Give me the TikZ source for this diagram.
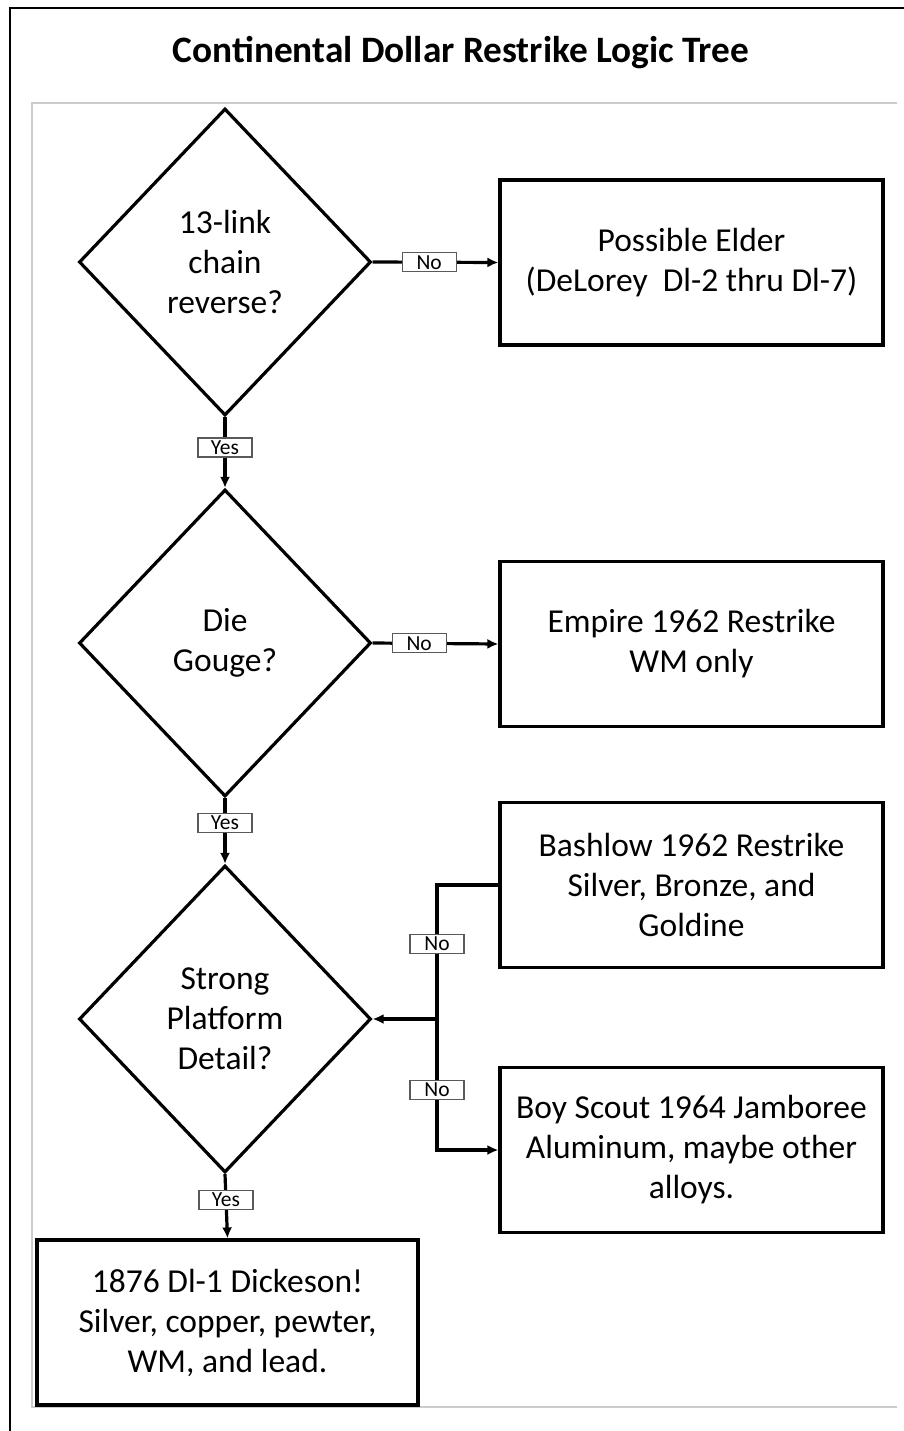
\documentclass[tikz,border=0pt]{standalone}
\usepackage{fontspec}
\setmainfont{Carlito}
\usetikzlibrary{shapes.geometric,arrows.meta}
\begin{document}
\begin{tikzpicture}[x=1pt,y=-1pt,
  every node/.style={inner sep=0pt},
  txt/.style={font=\fontsize{33.5}{40}\selectfont, align=center},
  decision/.style={txt, diamond, draw, line width=3.2pt, minimum width=292pt, minimum height=307pt},
  result/.style={txt, rectangle, draw, line width=3.2pt, minimum width=383pt, minimum height=165pt},
  lab/.style={draw=black!65, line width=1.2pt, fill=white, font=\fontsize{21.5}{21.5}\selectfont, minimum width=54pt, minimum height=19pt},
  conn/.style={line width=3.2pt},
  arr/.style={conn, -{Latex[length=11pt,width=10pt]}}
]
\useasboundingbox (0,0) rectangle (904,1431);
\draw[line width=2pt] (10,1431) -- (10,8) -- (904,8);
\draw[black!20, line width=1.5pt] (897,103) -- (32,103) -- (32,1407) -- (897,1407);
\node[font=\fontsize{37.3}{37.3}\selectfont\bfseries] (title) at (461,53) {Continental Dollar Restrike Logic Tree};

\node[decision] (d1) at (225,262) {13-link\\chain\\reverse?};
\node[decision] (d2) at (225,643) {Die\\Gouge?};
\node[decision] (d3) at (225,1019) {Strong\\Platform\\Detail?};

\node[result] (b1) at (691.5,262.5) {Possible Elder\\(DeLorey\ \ Dl-2 thru Dl-7)};
\node[result] (b2) at (691.5,644) {Empire 1962 Restrike\\WM only};
\node[result] (b3) at (691.5,885) {Bashlow 1962 Restrike\\Silver, Bronze, and\\Goldine};
\node[result] (b4) at (691.5,1150) {Boy Scout 1964 Jamboree\\Aluminum, maybe other\\alloys.};
\node[result, minimum width=381pt] (b5) at (227.5,1322.5) {1876 Dl-1 Dickeson!\\Silver, copper, pewter,\\WM, and lead.};

\draw[arr] (d1.east) -- node[lab, pos=0.45] {No} (b1.west);
\draw[arr] (d1.south) -- node[lab, pos=0.43] {Yes} (d2.north);
\draw[arr] (d2.east) -- node[lab, pos=0.37] {No} (b2.west);
\draw[arr] (d2.south) -- node[lab, pos=0.38] {Yes} (d3.north);
\draw[arr] (d3.south) -- node[lab, pos=0.4] {Yes} (b5.north);

\coordinate (j) at (437,1019);
\draw[conn] (b3.west) -| node[lab, pos=0.72] {No} (j);
\draw[arr] (j) -- (d3.east);
\draw[arr] (j) |- node[lab, pos=0.27] {No} (b4.west);
\end{tikzpicture}
\end{document}
